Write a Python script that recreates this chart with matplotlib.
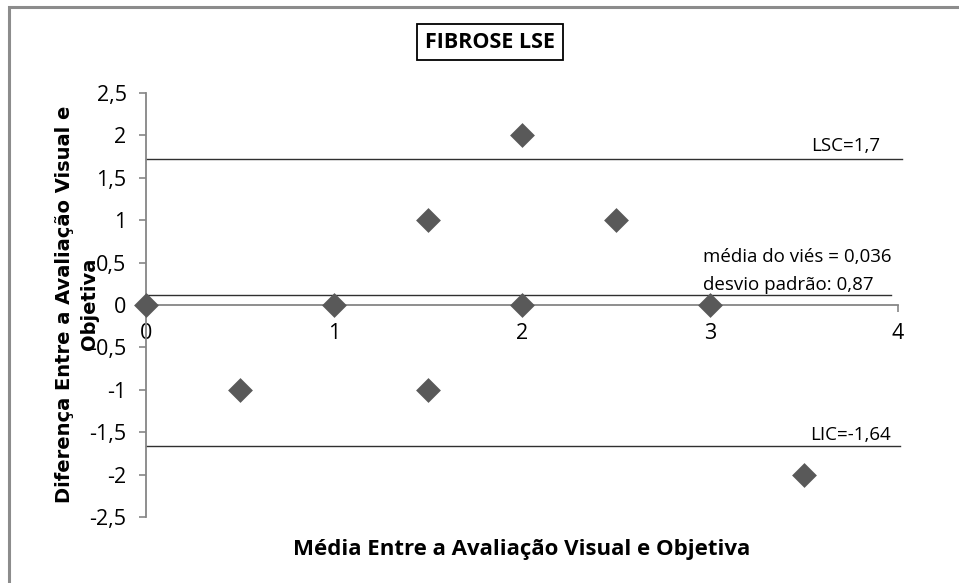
import matplotlib.pyplot as plt
from matplotlib.patches import Rectangle

# dados do gráfico de Bland-Altman
media_x = [0, 0.5, 1, 1.5, 1.5, 2, 2, 2.5, 3, 3.5]
diferenca_y = [0, -1, 0, 1, -1, 2, 0, 1, 0, -2]

lsc = 1.72
media_vies = 0.12
lic = -1.66
fim_lsc = 4.02
fim_media = 3.965
fim_lic = 4.01

y_ticks = [2.5, 2, 1.5, 1, 0.5, 0, -0.5, -1, -1.5, -2, -2.5]
y_labels = ['2,5', '2', '1,5', '1', '0,5', '0', '-0,5', '-1', '-1,5', '-2', '-2,5']
x_ticks = [0, 1, 2, 3, 4]
x_labels = ['0', '1', '2', '3', '4']

plt.rcParams['font.family'] = ['Open Sans', 'DejaVu Sans']

fig = plt.figure(figsize=(9.59, 5.83), dpi=100)
ax = fig.add_axes([146 / 959, 1 - 517 / 583, 752 / 959, 424 / 583])

# moldura externa do gráfico (estilo Excel)
fig.patches.append(Rectangle((9 / 959, -0.1), 1.2, 1 - 7 / 583 + 0.1, transform=fig.transFigure,
                             fill=False, edgecolor='#8c8c8c', linewidth=2.2))

axis_gray = '#868686'
ax.set_xlim(0, 4)
ax.set_ylim(-2.5, 2.5)
for s in ['top', 'right']:
    ax.spines[s].set_visible(False)
ax.spines['bottom'].set_position(('data', 0))
ax.spines['bottom'].set_color(axis_gray)
ax.spines['left'].set_color(axis_gray)
ax.spines['bottom'].set_linewidth(1.3)
ax.spines['left'].set_linewidth(1.3)

ax.set_yticks(y_ticks)
ax.set_yticklabels(y_labels)
ax.set_xticks(x_ticks)
ax.set_xticklabels(x_labels)
ax.tick_params(axis='both', direction='out', length=5, width=1.2, color=axis_gray,
               labelsize=15.5, labelcolor='black')
ax.tick_params(axis='x', pad=8)
ax.tick_params(axis='y', pad=9)

# linhas de limite e média
ax.plot([0, fim_lsc], [lsc, lsc], color='#303030', linewidth=1.0, clip_on=False, zorder=2)
ax.plot([0, fim_media], [media_vies, media_vies], color='#303030', linewidth=1.0, clip_on=False, zorder=2)
ax.plot([0, fim_lic], [lic, lic], color='#303030', linewidth=1.0, clip_on=False, zorder=2)

ax.scatter(media_x, diferenca_y, marker='D', s=160, color='#595959', zorder=4, clip_on=False,
           linewidths=0)

ax.text(3.904, 1.875, 'LSC=1,7', ha='right', va='center', fontsize=13.5)
ax.text(2.963, 0.566, 'média do viés = 0,036', ha='left', va='center', fontsize=13.5)
ax.text(2.963, 0.236, 'desvio padrão: 0,87', ha='left', va='center', fontsize=13.5)
ax.text(3.963, -1.533, 'LIC=-1,64', ha='right', va='center', fontsize=13.5)

# título com caixa
fig.text(490 / 959, 1 - 42 / 583, 'FIBROSE LSE', ha='center', va='center', fontsize=15.5,
         fontweight='bold',
         bbox=dict(boxstyle='square,pad=0.35', facecolor='white', edgecolor='black', linewidth=1.3))

fig.text(522 / 959, 1 - 550 / 583, 'Média Entre a Avaliação Visual e Objetiva', ha='center',
         va='center', fontsize=16, fontweight='bold')

fig.text(77 / 959, 1 - 304 / 583, 'Diferença Entre a Avaliação Visual e\nObjetiva', ha='center',
         va='center', rotation=90, fontsize=14, fontweight='bold', family='DejaVu Sans',
         linespacing=1.4, multialignment='center')

fig.savefig('out.png', dpi=100)
